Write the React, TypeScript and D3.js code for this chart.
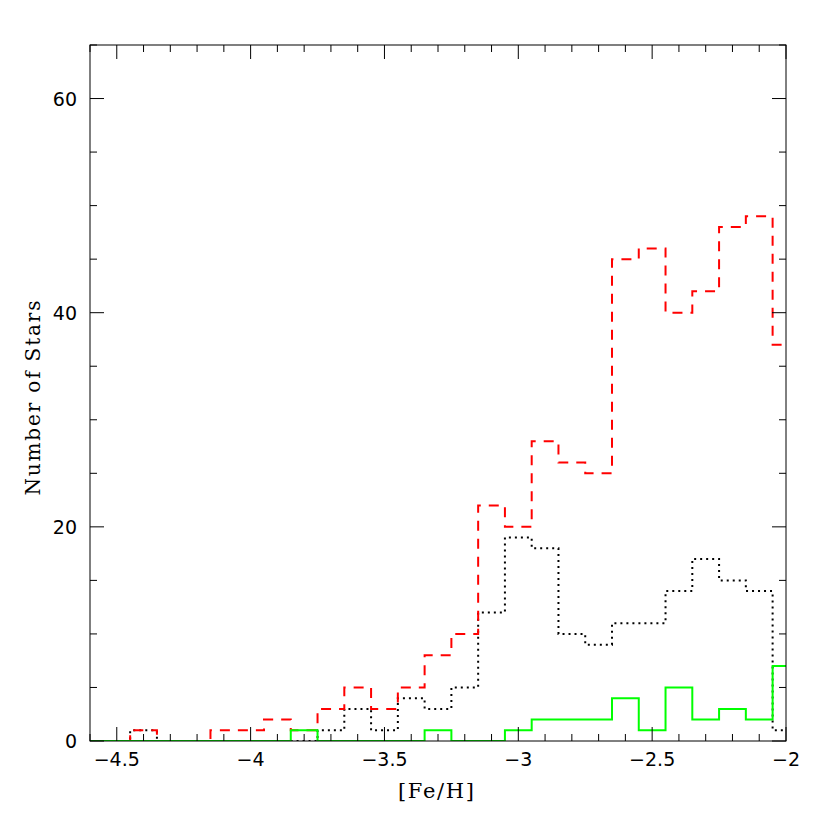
import React from "react";
import * as d3 from "d3";

const binCenters = [-4.6, -4.5, -4.4, -4.3, -4.2, -4.1, -4.0, -3.9, -3.8, -3.7, -3.6, -3.5, -3.4, -3.3, -3.2, -3.1, -3.0, -2.9, -2.8, -2.7, -2.6, -2.5, -2.4, -2.3, -2.2, -2.1, -2.0];
const redCounts = [0, 0, 1, 0, 0, 1, 1, 2, 1, 3, 5, 3, 5, 8, 10, 22, 20, 28, 26, 25, 45, 46, 40, 42, 48, 49, 37];
const blackCounts = [0, 0, 1, 0, 0, 0, 0, 0, 0, 1, 3, 1, 4, 3, 5, 12, 19, 18, 10, 9, 11, 11, 14, 17, 15, 14, 1];
const greenCounts = [0, 0, 0, 0, 0, 0, 0, 0, 1, 0, 0, 0, 0, 1, 0, 0, 1, 2, 2, 2, 4, 1, 5, 2, 3, 2, 7];

const xMajor = [-4.5, -4, -3.5, -3, -2.5, -2];
const xMajorLabels = ["\u22124.5", "\u22124", "\u22123.5", "\u22123", "\u22122.5", "\u22122"];
const yMajor = [0, 20, 40, 60];
const yMajorLabels = ["0", "20", "40", "60"];

const xDomain: [number, number] = [-4.6, -2.0];
const yDomain: [number, number] = [0, 65];
const binWidth = 0.1;

const L = 90, R = 786, T = 45, B = 741;

export default function App() {
  const x = d3.scaleLinear().domain(xDomain).range([L, R]);
  const y = d3.scaleLinear().domain(yDomain).range([B, T]);

  const stepPath = (vals: number[]) => {
    const pts: [number, number][] = [];
    binCenters.forEach((c, i) => {
      const lo = Math.max(c - binWidth / 2, xDomain[0]);
      const hi = Math.min(c + binWidth / 2, xDomain[1]);
      pts.push([lo, vals[i]]);
      pts.push([hi, vals[i]]);
    });
    return d3.line<[number, number]>().x((d) => x(d[0])).y((d) => y(d[1]))(pts) || "";
  };

  const xMinor = d3.range(0, 27).map((i) => -4.6 + i * 0.1).filter((v) => !xMajor.some((m) => Math.abs(m - v) < 1e-6));
  const yMinor = d3.range(0, 14).map((i) => i * 5).filter((v) => !yMajor.includes(v));

  const tickColor = "#000";
  const major = 14, minor = 7;

  return (
    <svg width={830} height={830} style={{ position: "absolute", left: 0, top: 0, background: "#fff" }}>
      <defs>
        <clipPath id="plotclip">
          <rect x={L} y={T} width={R - L} height={B - T} />
        </clipPath>
      </defs>
      <rect x={0} y={0} width={830} height={830} fill="#fff" />
      <g clipPath="url(#plotclip)" fill="none">
        <path d={stepPath(blackCounts)} stroke="#000" strokeWidth={2} strokeDasharray="2,4" />
        <path d={stepPath(redCounts)} stroke="#ff0000" strokeWidth={2} strokeDasharray="10,8" />
        <path d={stepPath(greenCounts)} stroke="#00ff00" strokeWidth={2} />
      </g>
      <rect x={L} y={T} width={R - L} height={B - T} fill="none" stroke="#000" strokeWidth={1} />
      <g stroke={tickColor} strokeWidth={1}>
        {xMajor.map((v) => (
          <g key={"xM" + v}>
            <line x1={x(v)} x2={x(v)} y1={B} y2={B - major} />
            <line x1={x(v)} x2={x(v)} y1={T} y2={T + major} />
          </g>
        ))}
        {xMinor.map((v) => (
          <g key={"xm" + v}>
            <line x1={x(v)} x2={x(v)} y1={B} y2={B - minor} />
            <line x1={x(v)} x2={x(v)} y1={T} y2={T + minor} />
          </g>
        ))}
        {yMajor.map((v) => (
          <g key={"yM" + v}>
            <line x1={L} x2={L + major} y1={y(v)} y2={y(v)} />
            <line x1={R} x2={R - major} y1={y(v)} y2={y(v)} />
          </g>
        ))}
        {yMinor.map((v) => (
          <g key={"ym" + v}>
            <line x1={L} x2={L + minor} y1={y(v)} y2={y(v)} />
            <line x1={R} x2={R - minor} y1={y(v)} y2={y(v)} />
          </g>
        ))}
      </g>
      <g fontFamily="'DejaVu Sans', sans-serif" fontSize={19} fill="#000">
        {xMajor.map((v, i) => (
          <text key={"xl" + v} x={x(v)} y={766} textAnchor="middle">
            {xMajorLabels[i]}
          </text>
        ))}
        {yMajor.map((v, i) => (
          <text key={"yl" + v} x={77} y={y(v) + 7} textAnchor="end">
            {yMajorLabels[i]}
          </text>
        ))}
      </g>
      <text x={436} y={798} textAnchor="middle" fontFamily="'DejaVu Serif', serif" fontSize={21} textLength={76} lengthAdjust="spacing">
        [Fe/H]
      </text>
      <text
        transform={`translate(40, 398) rotate(-90)`}
        textAnchor="middle"
        fontFamily="'DejaVu Serif', serif"
        fontSize={20}
        textLength={195}
        lengthAdjust="spacing"
      >
        Number of Stars
      </text>
    </svg>
  );
}
